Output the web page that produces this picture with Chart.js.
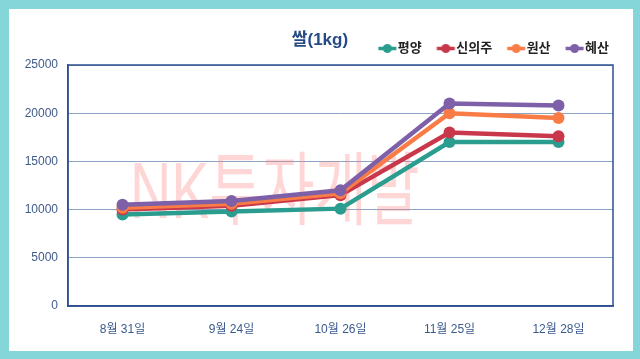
<!DOCTYPE html>
<html>
<head>
<meta charset="utf-8">
<script src="https://cdn.jsdelivr.net/npm/chart.js@4"></script>
<style>
  html, body { margin: 0; padding: 0; }
  body { width: 640px; height: 359px; background: #84d6d9; position: relative; overflow: hidden; }
  #panel { position: absolute; left: 9px; top: 9px; width: 624px; height: 342px; background: #ffffff; }
  #chart { position: absolute; left: 0; top: 0; }
  #title { position: absolute; left: 271px; top: 22px; width: 80px; text-align: center; font: bold 17px "Liberation Sans", "Noto Sans CJK KR", sans-serif; color: #264a84; line-height: 18px; white-space: nowrap; }
</style>
</head>
<body>
<div id="panel">
  <canvas id="chart" width="624" height="342"></canvas>
  <div id="title">쌀(1kg)</div>
</div>
<script>
const FONT = '"Liberation Sans", "Noto Sans CJK KR", sans-serif';

const categories = ['8월 31일', '9월 24일', '10월 26일', '11월 25일', '12월 28일'];
const seriesNames = ['평양', '신의주', '원산', '혜산'];
const pyongyang = [9500, 9800, 10100, 17000, 17000];
const sinuiju   = [10000, 10400, 11500, 18000, 17600];
const wonsan    = [10200, 10600, 11700, 20000, 19500];
const hyesan    = [10500, 10900, 12000, 21000, 20800];
const yTicks    = [0, 5000, 10000, 15000, 20000, 25000];
const watermarkText = 'NK투자개발';

const seriesValues = [pyongyang, sinuiju, wonsan, hyesan];
const seriesColors = ['#2a9d8f', '#c9384a', '#f97c47', '#7e60a8'];

function makeMarker(color) {
  const c = document.createElement('canvas');
  c.width = 26; c.height = 13;
  const g = c.getContext('2d');
  g.strokeStyle = color; g.lineWidth = 3.5;
  g.beginPath(); g.moveTo(6.5, 6.5); g.lineTo(24.5, 6.5); g.stroke();
  g.fillStyle = color;
  g.beginPath(); g.arc(15.5, 6.5, 4.5, 0, Math.PI * 2); g.fill();
  return c;
}

const datasets = seriesNames.map((name, i) => ({
  label: name,
  data: seriesValues[i],
  borderColor: seriesColors[i],
  backgroundColor: seriesColors[i],
  borderWidth: 4.5,
  pointRadius: 6,
  pointBorderWidth: 0,
  pointBackgroundColor: seriesColors[i],
  tension: 0,
  fill: false,
  order: seriesNames.length - i
}));

const framePlugin = {
  id: 'frame',
  afterLayout(chart) {
    chart.legend.left += 11;
    chart.legend.right += 11;
  },
  beforeDatasetsDraw(chart) {
    const {ctx, chartArea: a} = chart;
    ctx.save();
    ctx.fillStyle = 'rgba(255,120,120,0.3)';
    ctx.font = '84px ' + FONT;
    ctx.textBaseline = 'alphabetic';
    ctx.translate(a.left + 62, a.top + 153);
    ctx.scale(0.68, 0.95);
    ctx.fillText(watermarkText, 0, 0);
    ctx.restore();
    ctx.save();
    ctx.strokeStyle = '#2f4f8f';
    ctx.lineWidth = 1.5;
    ctx.strokeRect(a.left, a.top, a.right - a.left, a.bottom - a.top);
    ctx.restore();
  }
};

new Chart(document.getElementById('chart'), {
  type: 'line',
  data: { labels: categories, datasets },
  plugins: [framePlugin],
  options: {
    responsive: false,
    animation: false,
    layout: { padding: { top: 18, left: 10, right: 20, bottom: 15 } },
    plugins: {
      title: { display: false },
      tooltip: { enabled: false },
      legend: {
        position: 'top',
        align: 'end',
        labels: {
          usePointStyle: true,
          pointStyleWidth: 13,
          padding: 15,
          color: '#222222',
          font: { size: 13, weight: 'bold', family: FONT },
          generateLabels: (chart) => chart.data.datasets.map((ds, i) => ({
            text: ds.label,
            pointStyle: makeMarker(ds.borderColor),
            fillStyle: ds.borderColor,
            strokeStyle: ds.borderColor,
            lineWidth: 0,
            hidden: false,
            datasetIndex: i,
            fontColor: '#222222'
          }))
        }
      }
    },
    scales: {
      x: {
        offset: true,
        grid: { display: false, drawTicks: false },
        border: { color: '#2f4f8f', width: 1.5 },
        ticks: { padding: 16, color: '#3b5a8c', font: { size: 12, family: FONT } },
        afterFit: (s) => { s.height = 30; }
      },
      y: {
        min: yTicks[0],
        max: yTicks[yTicks.length - 1],
        afterBuildTicks: (s) => { s.ticks = yTicks.map(v => ({ value: v })); },
        grid: { color: '#8da5c5', lineWidth: 1, drawTicks: false },
        border: { color: '#2f4f8f', width: 1.5 },
        ticks: { padding: 10, color: '#3f5b8a', font: { size: 12, family: FONT }, callback: (v) => String(v) },
        afterFit: (s) => { s.width = 49; }
      }
    }
  }
});
</script>
</body>
</html>
